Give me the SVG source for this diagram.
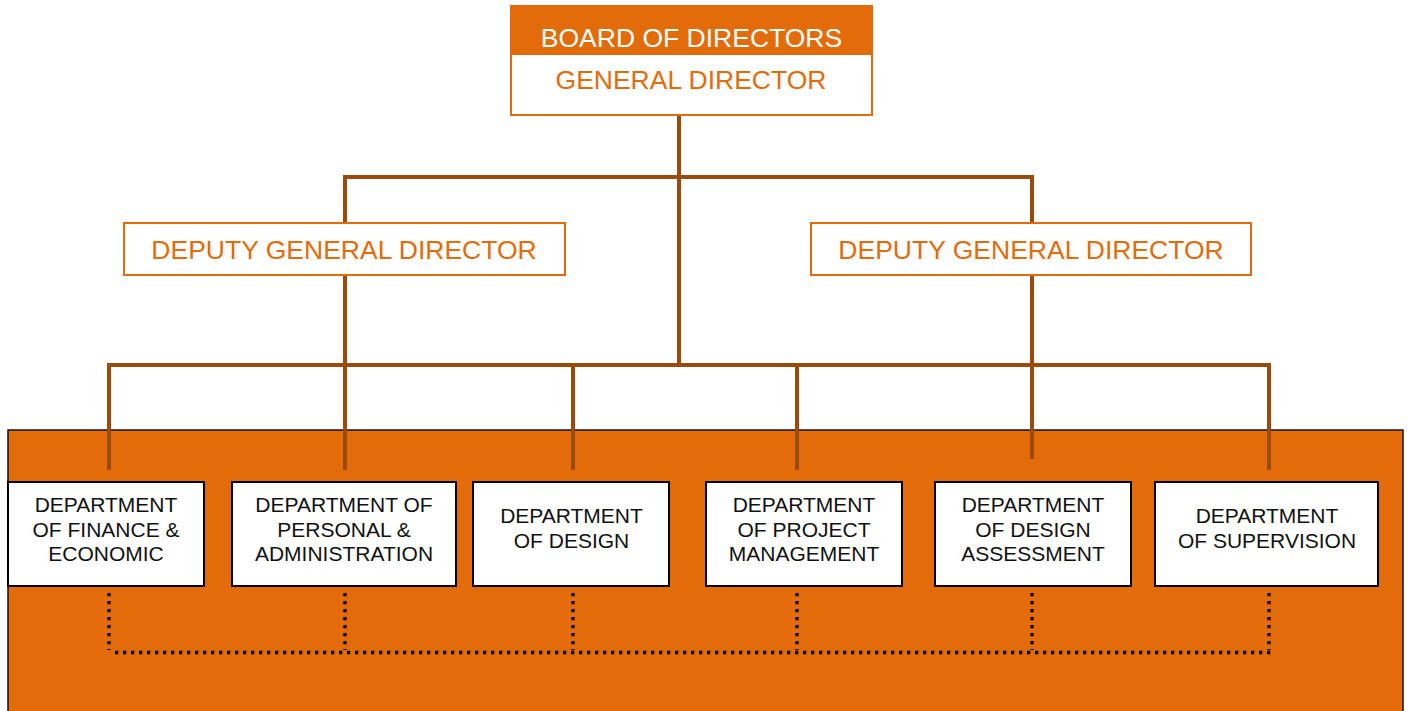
<svg xmlns="http://www.w3.org/2000/svg" width="1408" height="711" viewBox="0 0 1408 711">
<style>
.t{font-family:"Liberation Sans",Arial,sans-serif;text-anchor:middle}
.top{font-size:26.5px}
.dep{font-size:21px;fill:#111}
.wb{fill:#fff;stroke:#E26B0A;stroke-width:2}
.db{fill:#fff;stroke:#000;stroke-width:2}
.ln{stroke:#9A4A0A;stroke-width:4;fill:none}
.dt{stroke:#000;stroke-width:3.3;stroke-dasharray:3.3 4.7;fill:none}
</style>
<rect x="0" y="0" width="1408" height="711" fill="#fff"/>
<g id="panel">
<rect x="8" y="430" width="1395" height="285" fill="#E26B0A" stroke="#111" stroke-width="1.5"/>
</g>
<g id="connectors">
<path class="ln" d="M679 115V365M345 177H1032M345 175V222M1032 175V222M345 275V470M1032 275V459M109 365H1269M109 363V470M573 365V470M797 365V470M1269 363V470"/>
<path class="dt" d="M109 593V650M345 593V650M573 593V650M797 593V650M1032 593V650M1269 593V650M115 652.5H1271"/>
</g>
<g id="board">
<rect x="510" y="5" width="363" height="50" fill="#E26B0A"/>
<text class="t top" x="691.5" y="47" fill="#fff">BOARD OF DIRECTORS</text>
</g>
<g id="general-director">
<rect class="wb" x="511" y="54" width="361" height="61"/>
<text class="t top" x="691" y="89" fill="#E26B0A">GENERAL DIRECTOR</text>
</g>
<g id="deputy-left">
<rect class="wb" x="124" y="223" width="441" height="52"/>
<text class="t top" x="344" y="259" fill="#E26B0A">DEPUTY GENERAL DIRECTOR</text>
</g>
<g id="deputy-right">
<rect class="wb" x="811" y="223" width="440" height="52"/>
<text class="t top" x="1031" y="259" fill="#E26B0A">DEPUTY GENERAL DIRECTOR</text>
</g>
<g id="dept-finance">
<rect class="db" x="8" y="482" width="196" height="104"/>
<text class="t dep" x="106" y="512">DEPARTMENT</text>
<text class="t dep" x="106" y="536.5">OF FINANCE &amp;</text>
<text class="t dep" x="106" y="561">ECONOMIC</text>
</g>
<g id="dept-personal">
<rect class="db" x="232" y="482" width="224" height="104"/>
<text class="t dep" x="344" y="512">DEPARTMENT OF</text>
<text class="t dep" x="344" y="536.5">PERSONAL &amp;</text>
<text class="t dep" x="344" y="561">ADMINISTRATION</text>
</g>
<g id="dept-design">
<rect class="db" x="473" y="482" width="196" height="104"/>
<text class="t dep" x="571.5" y="523">DEPARTMENT</text>
<text class="t dep" x="571.5" y="547.5">OF DESIGN</text>
</g>
<g id="dept-project">
<rect class="db" x="706" y="482" width="196" height="104"/>
<text class="t dep" x="804" y="512">DEPARTMENT</text>
<text class="t dep" x="804" y="536.5">OF PROJECT</text>
<text class="t dep" x="804" y="561">MANAGEMENT</text>
</g>
<g id="dept-assessment">
<rect class="db" x="935" y="482" width="196" height="104"/>
<text class="t dep" x="1033" y="512">DEPARTMENT</text>
<text class="t dep" x="1033" y="536.5">OF DESIGN</text>
<text class="t dep" x="1033" y="561">ASSESSMENT</text>
</g>
<g id="dept-supervision">
<rect class="db" x="1155" y="482" width="223" height="104"/>
<text class="t dep" x="1267" y="523">DEPARTMENT</text>
<text class="t dep" x="1267" y="547.5">OF SUPERVISION</text>
</g>
</svg>
